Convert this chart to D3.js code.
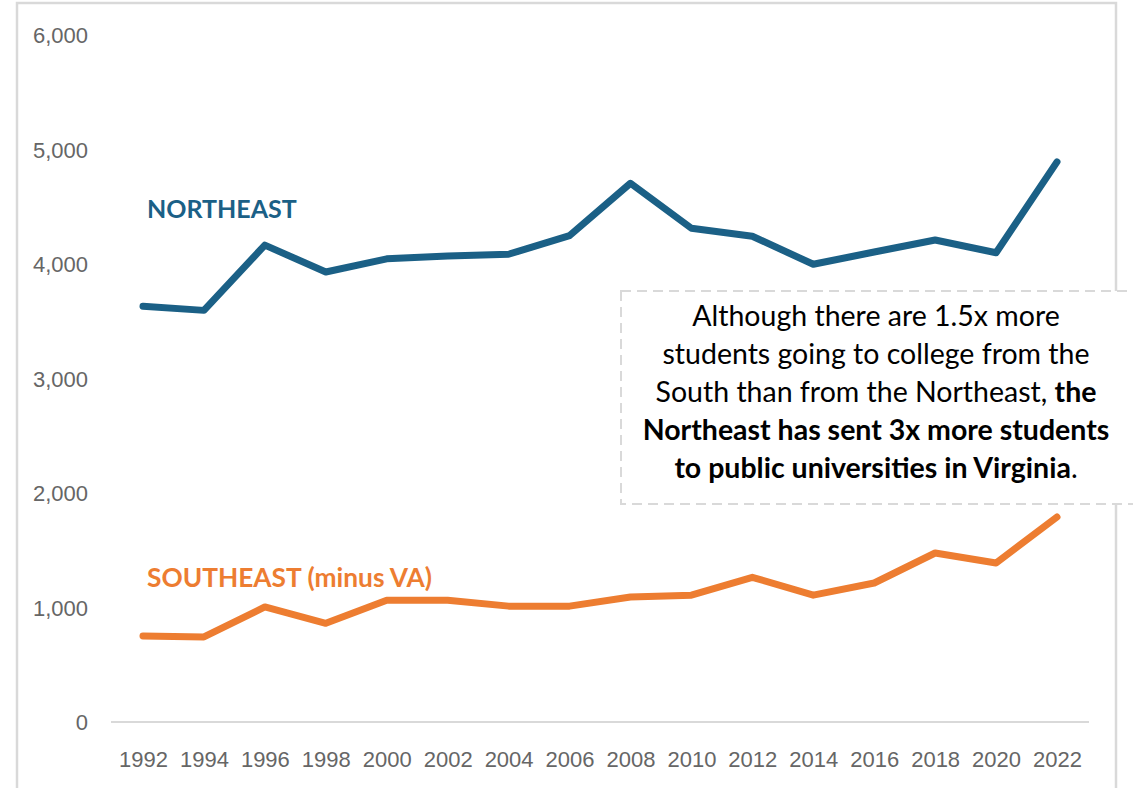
<!DOCTYPE html>
<html>
<head>
<meta charset="utf-8">
<script src="https://cdn.jsdelivr.net/npm/d3@7/dist/d3.min.js"></script>
<style>
  html, body { margin: 0; padding: 0; background: #ffffff; }
  svg { display: block; }
</style>
</head>
<body>
<svg id="chart" width="1133" height="788"></svg>
<script>
// Students sent to public universities in Virginia, by home region
const years = [1992, 1994, 1996, 1998, 2000, 2002, 2004, 2006, 2008, 2010, 2012, 2014, 2016, 2018, 2020, 2022];
const northeast = [3630, 3595, 4165, 3930, 4045, 4070, 4085, 4248, 4705, 4312, 4242, 3998, 4105, 4210, 4098, 4892];
const southeast = [752, 743, 1005, 862, 1064, 1064, 1012, 1012, 1092, 1108, 1264, 1108, 1214, 1476, 1389, 1790];
const yTicks = [0, 1000, 2000, 3000, 4000, 5000, 6000];
const seriesNames = ["NORTHEAST", "SOUTHEAST (minus VA)"];
const noteLines = [
  [{ t: "Although there are 1.5x more", b: false }],
  [{ t: "students going to college from the", b: false }],
  [{ t: "South than from the Northeast, ", b: false }, { t: "the", b: true }],
  [{ t: "Northeast has sent 3x more students", b: true }],
  [{ t: "to public universities in Virginia", b: true }, { t: ".", b: false }]
];

const colNE = "#1b6086";
const colSE = "#ed7d31";
const grey = "#d9d9d9";

const svg = d3.select("#chart");

// outer chart frame
svg.append("rect")
  .attr("x", 17).attr("y", 3)
  .attr("width", 1099).attr("height", 800)
  .attr("fill", "#fff")
  .attr("stroke", grey).attr("stroke-width", 2.5);

const x = d3.scaleLinear().domain([1992, 2022]).range([143, 1057]);
const y = d3.scaleLinear().domain([0, 6000]).range([722, 35]);

// baseline
svg.append("line")
  .attr("x1", 111).attr("x2", 1089)
  .attr("y1", y(0)).attr("y2", y(0))
  .attr("stroke", grey).attr("stroke-width", 2);

// y tick labels
const yAxis = d3.axisLeft(y).tickValues(yTicks).tickFormat(d3.format(",")).tickSize(0).tickPadding(0);
const gy = svg.append("g").attr("transform", "translate(88,0)").call(yAxis);
gy.select(".domain").remove();
gy.selectAll("text")
  .attr("font-family", "'Liberation Sans', Arial, sans-serif")
  .attr("font-size", 22)
  .attr("fill", "#666666")
  .attr("dy", "0.36em");

// x tick labels
const xAxis = d3.axisBottom(x).tickValues(years).tickFormat(d3.format("d")).tickSize(0).tickPadding(0);
const gx = svg.append("g").attr("transform", `translate(0,${y(0)})`).call(xAxis);
gx.select(".domain").remove();
gx.selectAll("text")
  .attr("font-family", "'Liberation Sans', Arial, sans-serif")
  .attr("font-size", 22)
  .attr("fill", "#666666")
  .attr("dy", 0)
  .attr("y", 45);

// series lines
const line = d3.line().x((d, i) => x(years[i])).y(d => y(d));
[[northeast, colNE], [southeast, colSE]].forEach(([vals, c]) => {
  svg.append("path")
    .datum(vals)
    .attr("d", line)
    .attr("fill", "none")
    .attr("stroke", c)
    .attr("stroke-width", 7)
    .attr("stroke-linejoin", "round")
    .attr("stroke-linecap", "round");
});

// series labels
svg.append("text")
  .attr("x", 147).attr("y", 218)
  .attr("font-family", "Lato, sans-serif").attr("font-weight", 700)
  .attr("font-size", 25).attr("fill", colNE)
  .text(seriesNames[0]);
svg.append("text")
  .attr("x", 147).attr("y", 587)
  .attr("font-family", "Lato, sans-serif").attr("font-weight", 700)
  .attr("font-size", 26.3).attr("fill", colSE)
  .text(seriesNames[1]);

// annotation box
svg.append("rect")
  .attr("x", 621).attr("y", 291)
  .attr("width", 560).attr("height", 213)
  .attr("fill", "#fff")
  .attr("stroke", grey).attr("stroke-width", 2)
  .attr("stroke-dasharray", "10,6");

const note = svg.append("text")
  .attr("font-family", "Lato, sans-serif")
  .attr("font-size", 28.5)
  .attr("fill", "#000")
  .attr("text-anchor", "middle");
noteLines.forEach((parts, i) => {
  const ln = note.append("tspan").attr("x", 876).attr("y", 326 + i * 38);
  parts.forEach(p => {
    ln.append("tspan").attr("font-weight", p.b ? 700 : 400).text(p.t);
  });
});
</script>
</body>
</html>
